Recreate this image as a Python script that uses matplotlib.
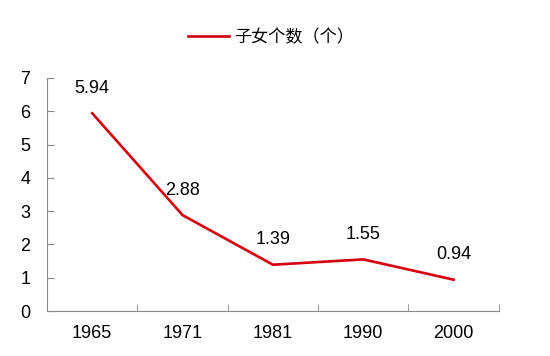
import matplotlib.pyplot as plt

plt.rcParams['font.family'] = ['Liberation Sans', 'Noto Sans CJK SC', 'DejaVu Sans']

years = ['1965', '1971', '1981', '1990', '2000']
children = [5.94, 2.88, 1.39, 1.55, 0.94]

fig = plt.figure(figsize=(5.5, 3.56), dpi=100)
ax = fig.add_axes([0.0855, 0.1264, 0.8215, 0.6546])

x = list(range(len(years)))
line, = ax.plot(x, children, color='#d7000f', linewidth=1.9, label='子女个数（个）')
for xi, v in zip(x, children):
    ax.annotate(f'{v:.2f}', (xi, v), xytext=(0, 18), textcoords='offset points',
                ha='center', va='center', fontsize=13, color='black')

ax.set_xlim(-0.5, len(years) - 0.5)
ax.set_ylim(0, 7)
ax.set_yticks(range(8))
ax.set_xticks(x)
ax.set_xticklabels(years, fontsize=13)
ax.set_xticks([i + 0.5 for i in range(-1, len(years))], minor=True)
ax.tick_params(axis='x', which='major', length=0, pad=10)
ax.tick_params(axis='x', which='minor', direction='in', length=5, color='#898989')
ax.tick_params(axis='y', direction='in', length=5, color='#898989', labelsize=13, pad=12)

for s in ['top', 'right']:
    ax.spines[s].set_visible(False)
for s in ['left', 'bottom']:
    ax.spines[s].set_color('#898989')

fig.legend(handles=[line], loc='center', bbox_to_anchor=(0.4925, 0.895), frameon=False,
           handlelength=2.4, handletextpad=0.3,
           prop={'family': ['Noto Sans CJK SC', 'DejaVu Sans'], 'size': 12.3})

fig.savefig('out.png', dpi=100)
